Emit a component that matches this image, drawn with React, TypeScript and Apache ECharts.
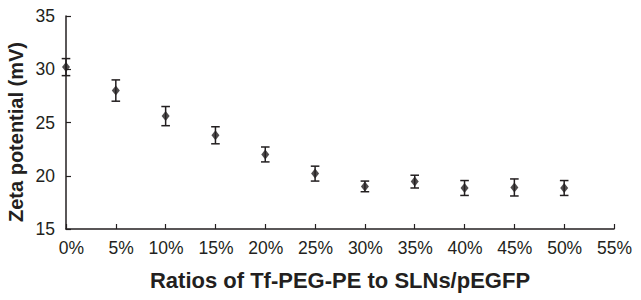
import React, { useEffect, useRef } from "react";
import * as echarts from "echarts";

const ratios = [0, 5, 10, 15, 20, 25, 30, 35, 40, 45, 50];
const zeta = [30.2, 28.0, 25.6, 23.8, 22.0, 20.2, 19.0, 19.45, 18.85, 18.9, 18.85];
const errs = [0.8, 1.0, 0.9, 0.8, 0.7, 0.7, 0.5, 0.6, 0.7, 0.8, 0.7];
const xTitle = "Ratios of Tf-PEG-PE to SLNs/pEGFP";
const yTitle = "Zeta potential (mV)";

const TEXT = "#231f20";
const FONT = "'Liberation Sans', Arial, sans-serif";

export default function App() {
  const ref = useRef<HTMLDivElement>(null);
  useEffect(() => {
    if (!ref.current) return;
    const chart = echarts.init(ref.current, undefined, { renderer: "svg" });
    const points = ratios.map((r, i) => [r, zeta[i]]);
    const errData = ratios.map((r, i) => [r, zeta[i] - errs[i], zeta[i] + errs[i]]);
    chart.setOption({
      animation: false,
      backgroundColor: "#ffffff",
      grid: { left: 66, right: 27, top: 16, bottom: 71 },
      graphic: [
        {
          type: "text",
          x: 16,
          y: 132,
          rotation: Math.PI / 2,
          style: {
            text: yTitle,
            fontFamily: FONT,
            fontSize: 20,
            fontWeight: "bold",
            fill: TEXT,
            align: "center",
            verticalAlign: "middle",
          },
        },
      ],
      xAxis: {
        type: "value",
        min: 0,
        max: 55,
        interval: 5,
        name: xTitle,
        nameLocation: "middle",
        nameGap: 40,
        nameTextStyle: { fontFamily: FONT, fontSize: 22, fontWeight: "bold", color: TEXT },
        axisLine: { lineStyle: { color: TEXT, width: 1.5 } },
        axisTick: { inside: true, length: 5, lineStyle: { color: TEXT, width: 1.2 } },
        axisLabel: {
          formatter: (v: number) => "{a|" + v + "%}",
          rich: {
            a: {
              width: 36,
              align: "right",
              fontFamily: FONT,
              fontSize: 17.5,
              color: TEXT,
            },
          },
          margin: 10,
        },
        splitLine: { show: false },
      },
      yAxis: {
        type: "value",
        min: 15,
        max: 35,
        interval: 5,
        axisLine: { show: true, lineStyle: { color: TEXT, width: 1.5 } },
        axisTick: { show: true, inside: true, length: 5, lineStyle: { color: TEXT, width: 1.2 } },
        axisLabel: { fontFamily: FONT, fontSize: 17.5, color: TEXT, margin: 11 },
        splitLine: { show: false },
      },
      series: [
        {
          type: "custom",
          data: errData,
          clip: false,
          renderItem: (params: any, api: any) => {
            const x = api.value(0);
            const lo = api.coord([x, api.value(1)]);
            const hi = api.coord([x, api.value(2)]);
            const hw = 4.3;
            const style = { stroke: TEXT, lineWidth: 1.5 };
            return {
              type: "group",
              children: [
                { type: "line", shape: { x1: lo[0], y1: lo[1], x2: hi[0], y2: hi[1] }, style },
                { type: "line", shape: { x1: lo[0] - hw, y1: lo[1], x2: lo[0] + hw, y2: lo[1] }, style },
                { type: "line", shape: { x1: hi[0] - hw, y1: hi[1], x2: hi[0] + hw, y2: hi[1] }, style },
              ],
            };
          },
          z: 2,
        },
        {
          type: "scatter",
          data: points,
          symbol: "diamond",
          symbolSize: [8, 10],
          itemStyle: { color: TEXT },
          clip: false,
          z: 3,
        },
      ],
    });
    return () => chart.dispose();
  }, []);
  return <div ref={ref} style={{ width: 641, height: 300, position: "absolute", left: 0, top: 0 }} />;
}
